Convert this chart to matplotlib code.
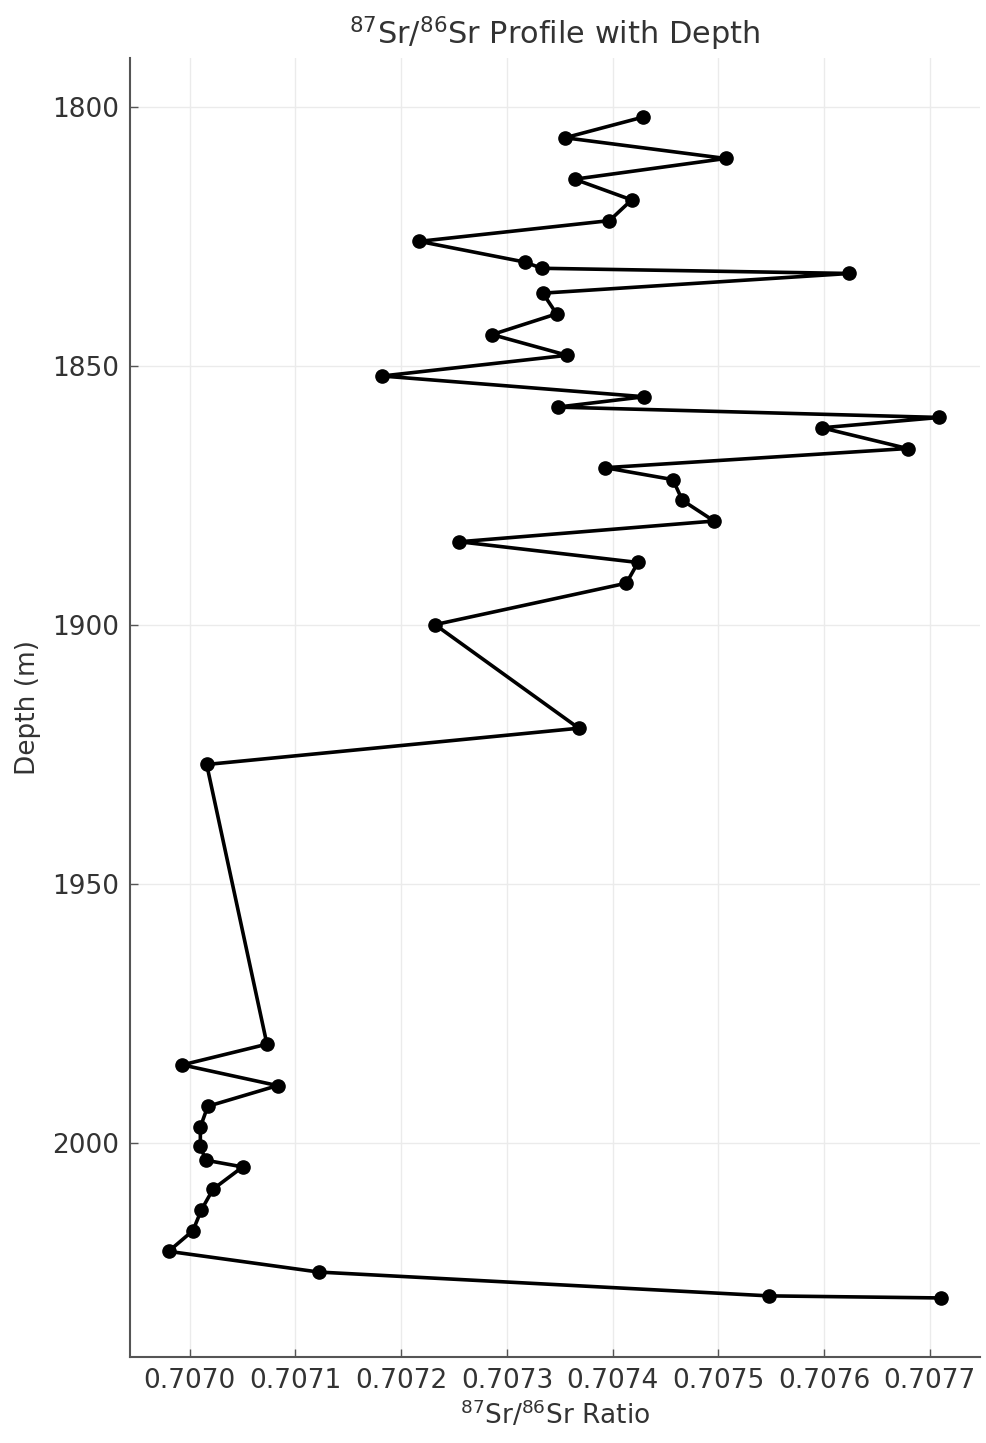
import matplotlib
matplotlib.use("Agg")
import matplotlib.pyplot as plt
from matplotlib import font_manager

# ---- data ----
depth_m = [1802, 1806, 1810, 1814, 1818, 1822, 1826, 1830, 1831.2, 1832.2,
           1836, 1840, 1844, 1848, 1852, 1856, 1858, 1860, 1862, 1866,
           1869.7, 1872, 1876, 1880, 1884, 1888, 1892, 1900, 1920, 1927,
           1981, 1985, 1989, 1993, 1997, 2000.7, 2003.4, 2004.7, 2009, 2013,
           2017, 2021, 2025, 2029.6, 2030]
sr_ratio = [0.707429, 0.707355, 0.707507, 0.707364, 0.707418, 0.707397, 0.707217, 0.707317, 0.707333, 0.707624,
            0.707334, 0.707347, 0.707286, 0.707357, 0.707182, 0.707430, 0.707348, 0.707709, 0.707598, 0.707679,
            0.707393, 0.707457, 0.707466, 0.707496, 0.707255, 0.707424, 0.707413, 0.707232, 0.707368, 0.707016,
            0.707073, 0.706993, 0.707083, 0.707017, 0.707010, 0.707010, 0.707015, 0.707050, 0.707022, 0.707011,
            0.707003, 0.706980, 0.707122, 0.707548, 0.707711]
x_ticks = [0.7070, 0.7071, 0.7072, 0.7073, 0.7074, 0.7075, 0.7076, 0.7077]
x_tick_labels = ["0.7070", "0.7071", "0.7072", "0.7073", "0.7074", "0.7075", "0.7076", "0.7077"]
y_ticks = [1800, 1850, 1900, 1950, 2000]

# ---- font choice ----
try:
    font_manager.findfont("DejaVu Sans Condensed", fallback_to_default=False)
    fam = ["DejaVu Sans Condensed", "DejaVu Sans"]
    fs = 21
except Exception:
    fam = ["DejaVu Sans"]
    fs = 19

plt.rcParams["font.family"] = fam
text_col = "#333333"

fig = plt.figure(figsize=(9.86, 14.43), dpi=100)
ax = fig.add_axes([130 / 986, 1 - 1357 / 1443, 850 / 986, (1357 - 58) / 1443])

ax.plot(sr_ratio, depth_m, color="black", linewidth=2.6, marker="o", markersize=9.5, zorder=3)
ax.invert_yaxis()

ax.set_xticks(x_ticks)
ax.set_xticklabels(x_tick_labels)
ax.set_yticks(y_ticks)

ax.grid(True, color="#ebebeb", linewidth=1.0, zorder=0)
ax.set_axisbelow(True)

for s in ["top", "right"]:
    ax.spines[s].set_visible(False)
for s in ["left", "bottom"]:
    ax.spines[s].set_color("#555555")
    ax.spines[s].set_linewidth(1.5)

ax.tick_params(axis="both", direction="in", length=6, width=1.0, color="#555555",
               labelsize=fs, labelcolor=text_col, pad=8)

ax.set_xlabel(r"$^{87}$Sr/$^{86}$Sr Ratio", fontsize=fs, color=text_col, labelpad=4)
ax.set_ylabel("Depth (m)", fontsize=fs, color=text_col, labelpad=8)
ax.set_title(r"$^{87}$Sr/$^{86}$Sr Profile with Depth", fontsize=fs * 1.15, color=text_col, pad=10)

fig.savefig("out.png", dpi=100)
